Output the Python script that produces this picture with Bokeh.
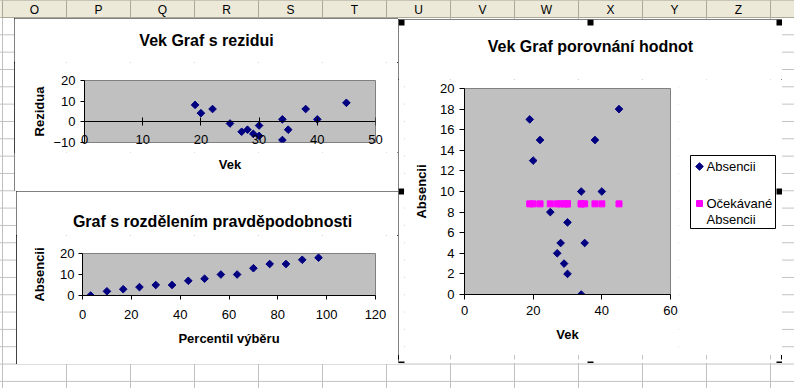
from bokeh.plotting import figure
from bokeh.models import Range1d, FixedTicker, ColumnDataSource, Spacer, LinearAxis
from bokeh.core.properties import value
from bokeh.layouts import column, row
from bokeh.embed import file_html
from bokeh.resources import INLINE

# ---- data ----
vek = [19, 22, 20, 45, 38, 34, 40, 25, 30, 28, 35, 27, 29, 30, 34]
absencii = [17, 15, 13, 18, 15, 10, 10, 8, 7, 5, 5, 4, 3, 2, 0]
ocekavane = [8.8, 8.8, 8.8, 8.8, 8.8, 8.8, 8.8, 8.8, 8.8, 8.8, 8.8, 8.8, 8.8, 8.8, 8.8]
rezidua = [8.2, 6.2, 4.2, 9.2, 6.2, 1.2, 1.2, -0.8, -1.8, -3.8, -3.8, -4.8, -5.8, -6.8, -8.8]
percentil = [3.33, 10, 16.67, 23.33, 30, 36.67, 43.33, 50, 56.67, 63.33, 70, 76.67, 83.33, 90, 96.67]
absencii_serazene = [0, 2, 3, 4, 5, 5, 7, 8, 10, 10, 13, 15, 15, 17, 18]

ticks_vek1 = [0, 10, 20, 30, 40, 50]
ticks_rez = [-10, 0, 10, 20]
ticks_perc = [0, 20, 40, 60, 80, 100, 120]
ticks_abs2 = [0, 10, 20]
ticks_vek3 = [0, 20, 40, 60]
ticks_abs3 = [0, 2, 4, 6, 8, 10, 12, 14, 16, 18, 20]
legend_labels = ["Absencii", "Očekávané", "Absencii"]
sloupce = ["", "O", "P", "Q", "R", "S", "T", "U", "V", "W", "X", "Y", "Z", ""]

FONT = "Liberation Sans"
NAVY = "#000080"
MAGENTA = "#FF00FF"
PLOT_BG = "#C0C0C0"
OUTLINE = {"outline": "1px solid black", "outline-offset": "-1px"}


def base_fig(w, h, left, right, top, bottom, xr, yr):
    p = figure(width=w, height=h, output_backend="svg", toolbar_location=None,
               x_range=Range1d(*xr), y_range=Range1d(*yr),
               min_border_left=left, min_border_right=right,
               min_border_top=top, min_border_bottom=bottom)
    p.background_fill_color = PLOT_BG
    p.border_fill_color = "white"
    p.outline_line_color = "#808080"
    p.outline_line_width = 1
    p.grid.visible = False
    for ax in (p.xaxis[0], p.yaxis[0]):
        ax.axis_line_color = "black"
        ax.major_tick_line_color = "black"
        ax.minor_tick_line_color = None
        ax.major_label_text_font = FONT
        ax.major_label_text_font_size = "13px"
        ax.major_label_text_color = "black"
        ax.axis_label_text_font = FONT
        ax.axis_label_text_font_size = "13px"
        ax.axis_label_text_font_style = "bold"
        ax.axis_label_text_color = "black"
        ax.major_tick_in = 0
    return p


def strip(w, h):
    s = figure(width=w, height=h, output_backend="svg", toolbar_location=None,
               x_range=Range1d(0, w), y_range=Range1d(h, 0),
               min_border=0, outline_line_color=None)
    s.axis.visible = False
    s.grid.visible = False
    s.background_fill_color = "white"
    s.border_fill_color = "white"
    return s


def wrap(s):
    # own row so that Bokeh does not align its frame with the neighbouring plot
    return row(s, width=s.width, height=s.height)


def strip_text(s, text, cx, cy, size="16px"):
    s.text(x=[cx], y=[cy], text=[text], text_align="center", text_baseline="middle",
           text_font=value(FONT), text_font_size=size, text_font_style="bold",
           text_color="black")


def handles(s, xs, y):
    s.rect(x=xs, y=[y] * len(xs), width=6, height=6, fill_color="black",
           line_color=None)


# ---- chart 1: residuals ----
t1 = strip(384, 44)
strip_text(t1, "Vek Graf s rezidui", 192, 22)
p1 = base_fig(384, 90, 70, 23, 18, 10, (0, 50), (-10, 20))
p1.xaxis.ticker = FixedTicker(ticks=ticks_vek1)
p1.yaxis.ticker = FixedTicker(ticks=ticks_rez)
# bottom axis carries only the tick labels (they straddle the plot's lower edge)
p1.xaxis.axis_line_color = None
p1.xaxis.major_tick_line_color = None
p1.xaxis.major_tick_out = 0
p1.xaxis.major_label_standoff = -8
# axis line with crossing ticks at zero
zero_axis = LinearAxis(fixed_location=0, ticker=FixedTicker(ticks=ticks_vek1),
                       axis_line_color="black", major_tick_line_color="black",
                       minor_tick_line_color=None, major_tick_in=4, major_tick_out=4,
                       major_label_text_color=None)
p1.add_layout(zero_axis, "below")
p1.yaxis.major_tick_out = 4
p1.yaxis.major_label_standoff = 5
p1.yaxis.axis_label = "Rezidua"
p1.yaxis.axis_label_standoff = 3
p1.scatter(vek, rezidua, marker="square", angle=0.785, size=5.4,
           fill_color=NAVY, line_color=NAVY)
s1 = strip(384, 39)
strip_text(s1, "Vek", 215.5, 12, "13px")
c1 = column(wrap(t1), p1, wrap(s1), width=384, height=173)
c1.styles = OUTLINE

# ---- chart 2: probability plot ----
t2 = strip(382, 44)
strip_text(t2, "Graf s rozdělením pravděpodobnosti", 196, 30)
p2 = base_fig(382, 129, 66, 23, 18, 69, (0, 120), (0, 20))
p2.xaxis.ticker = FixedTicker(ticks=ticks_perc)
p2.yaxis.ticker = FixedTicker(ticks=ticks_abs2)
p2.xaxis.major_tick_out = 4
p2.xaxis.major_label_standoff = 10
p2.xaxis.axis_label = "Percentil výběru"
p2.xaxis.axis_label_standoff = 9
p2.yaxis.major_tick_out = 4
p2.yaxis.major_label_standoff = 4
p2.yaxis.axis_label = "Absencii"
p2.yaxis.axis_label_standoff = 10
p2.scatter(percentil, absencii_serazene, marker="square", angle=0.785, size=5.4,
           fill_color=NAVY, line_color=NAVY)
c2 = column(wrap(t2), p2, width=382, height=173)
c2.styles = OUTLINE

# ---- chart 3: comparison ----
t3 = strip(384, 60)
strip_text(t3, "Vek Graf porovnání hodnot", 192, 27)
handles(t3, [3, 192, 381], 3)
ls = strip(6, 276)
handles(ls, [3], 112)
p3 = base_fig(274, 276, 60, 8, 9, 61, (0, 60), (0, 20))
p3.xaxis.ticker = FixedTicker(ticks=ticks_vek3)
p3.yaxis.ticker = FixedTicker(ticks=ticks_abs3)
p3.xaxis.major_tick_out = 5
p3.xaxis.major_label_standoff = 6
p3.xaxis.axis_label = "Vek"
p3.xaxis.axis_label_standoff = 9
p3.yaxis.major_tick_out = 5
p3.yaxis.major_label_standoff = 5
p3.yaxis.axis_label = "Absencii"
p3.yaxis.axis_label_standoff = 8
p3.scatter(vek, absencii, marker="square", angle=0.785, size=5.4,
           fill_color=NAVY, line_color=NAVY)
p3.scatter(vek, ocekavane, marker="square", size=6,
           fill_color=MAGENTA, line_color=MAGENTA)

# legend panel of chart 3
lg = strip(104, 276)
lg.quad(left=[12], right=[97], top=[76], bottom=[149], fill_color="white",
        line_color="black", line_width=1)
lg.scatter(x=[21], y=[87], marker="square", angle=0.785, size=5.4,
           fill_color=NAVY, line_color=NAVY)
lg.scatter(x=[21], y=[124], marker="square", size=6,
           fill_color=MAGENTA, line_color=MAGENTA)
lg.text(x=[28, 28, 28], y=[87, 124, 140], text=legend_labels, text_align="left",
        text_baseline="middle", text_font=value(FONT), text_font_size="13px",
        text_color="black")
handles(lg, [101], 112)

b3 = strip(384, 8)
handles(b3, [3, 192, 381], 5)

body3 = row(column(ls, width=6, height=276), p3, column(lg, width=104, height=276),
            width=384, height=276)
c3 = column(wrap(t3), body3, wrap(b3), width=384, height=344)
c3.styles = OUTLINE

# ---- spreadsheet column header ----
hdr = figure(width=794, height=18, output_backend="svg", toolbar_location=None,
             x_range=Range1d(0, 794), y_range=Range1d(18, 0),
             min_border=0, outline_line_color=None)
hdr.axis.visible = False
hdr.grid.visible = False
hdr.border_fill_color = "#ECE9D8"
hdr.background_fill_color = "#ECE9D8"
lefts = [-62 + 64 * i for i in range(len(sloupce))]
hsrc = ColumnDataSource(dict(left=lefts, right=[l + 64 for l in lefts],
                             cx=[l + 32 for l in lefts], lab=sloupce))
hdr.quad(left="left", right="right", top=0, bottom=17, source=hsrc,
         fill_color="#ECE9D8", line_color="#ACA899")
hdr.text(x="cx", y=9, text="lab", source=hsrc, text_align="center",
         text_baseline="middle", text_font=value(FONT), text_font_size="12px",
         text_color="black")

r1 = row(Spacer(width=14, height=173), c1, width=398, height=173)
r2 = row(Spacer(width=16, height=173), c2, width=398, height=173)
left_col = column(r1, r2, width=398, height=346)
right_col = column(Spacer(width=384, height=1), c3, width=384, height=346)
charts = row(left_col, right_col, width=782, height=346)
bottom = Spacer(width=794, height=24)
root = column(wrap(hdr), charts, bottom, width=794, height=388)
root.styles = {
    "background-color": "white",
    "background-image": "linear-gradient(to right, #C0C0C0 1px, transparent 1px), "
                        "linear-gradient(to bottom, #C0C0C0 1px, transparent 1px)",
    "background-size": "64px 100%, 100% 17.33px",
    "background-position": "2px 0, 0 17px",
}

open("out.html", "w").write(file_html(root, INLINE))
